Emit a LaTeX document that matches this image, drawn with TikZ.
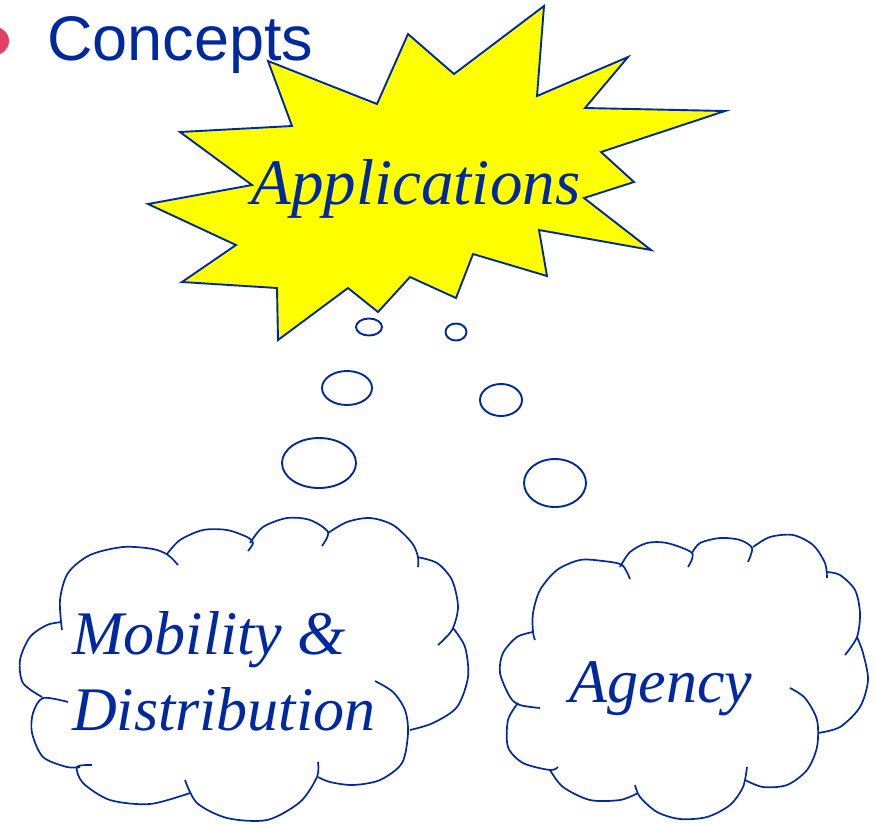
\documentclass[tikz,border=0pt]{standalone}
\usepackage{fontspec}
\setmainfont{Liberation Serif}
\newfontfamily\headfont{Liberation Sans}
\definecolor{ink}{RGB}{0,41,160}
\definecolor{dotred}{RGB}{230,64,96}
\definecolor{burstyellow}{RGB}{255,255,0}

\begin{document}
\begin{tikzpicture}[x=1pt, y=-1pt,
    burst/.style  = {draw=ink, fill=burstyellow, line width=1.9pt},% the star
    bubble/.style = {draw=ink, line width=1.9pt},% thought bubbles
    puff/.style   = {draw=ink, line width=1.7pt},% cloud arcs
    word/.style   = {text=ink, inner sep=0pt,
                     font=\itshape\fontsize{62}{76}\selectfont},
                        ]
\useasboundingbox (0,0) rectangle (876,823);
% heading
\fill[dotred] (-5,41) circle[radius=14];
\node[text=ink, inner sep=0pt, anchor=base west,
      font=\headfont\fontsize{63}{75}\selectfont] (head) at (47,60) {Concepts};
% star
\draw[burst] (544,6) -- (537,96) -- (628,57) -- (585,108) -- (725,111)
   -- (601,152) -- (634,182) -- (584,198) -- (651,250) -- (539,230)
   -- (547,276) -- (473,254) -- (456,298) -- (410,277) -- (378,312)
   -- (348,288) -- (278,340) -- (277,288) -- (182,282) -- (236,245)
   -- (148,204) -- (252,185) -- (180,132) -- (292,126) -- (268,61)
   -- (377,104) -- (408,34) -- (454,74) -- cycle;
\node[word, font=\itshape\fontsize{65}{78}\selectfont, anchor=base]
   (apps) at (416,204) {Applications};
% thought bubbles
\foreach \x/\y/\a/\b in {369/327/13/8.5, 456/332/10.5/8.5, 347/388/25/17,
                         501/400/21/16, 319/463/37/25, 555/483/31/24}
    \draw[bubble] (\x,\y) ellipse[x radius=\a, y radius=\b];
% left cloud
\draw[puff] plot[smooth] coordinates {(62,630) (60,600) (68,573) (90,555) (123,547) (153,549) (168,555) (178,565)};
\draw[puff] plot[smooth] coordinates {(167,554) (180,540) (203,530) (227,530) (247,537) (253,543) (248,551)};
\draw[puff] plot[smooth] coordinates {(250,543) (263,527) (287,518) (310,520) (328,532) (322,546)};
\draw[puff] plot[smooth] coordinates {(328,533) (347,522) (370,518) (393,525) (412,543) (418,557) (418,567)};
\draw[puff] plot[smooth] coordinates {(417,557) (437,563) (452,580) (458,607) (452,630) (438,645)};
\draw[puff] plot[smooth] coordinates {(453,628) (465,647) (468,677) (457,707) (433,723) (410,730)};
\draw[puff] plot[smooth] coordinates {(375,681) (393,692) (405,710) (408,733) (402,763) (380,780) (353,785) (330,782) (318,777)};
\draw[puff] plot[smooth] coordinates {(318,762) (317,777) (300,802) (267,820) (227,818) (197,803) (185,780)};
\draw[puff] plot[smooth] coordinates {(190,793) (150,804) (110,800) (83,783) (77,767) (92,765)};
\draw[puff] plot[smooth] coordinates {(80,767) (67,767) (43,757) (32,733) (33,713) (43,698) (68,702)};
\draw[puff] plot[smooth] coordinates {(42,697) (23,683) (20,660) (30,637) (47,625) (62,622)};
\node[word, align=left, anchor=base west] (mobility) at (72,730)
   {Mobility \&\\Distribution};
% right cloud
\draw[puff] plot[smooth] coordinates {(535,640) (533,632) (533,613) (540,590) (557,570) (580,560) (603,561) (622,565) (630,579)};
\draw[puff] plot[smooth] coordinates {(620,567) (630,552) (647,543) (667,543) (692,553) (688,567)};
\draw[puff] plot[smooth] coordinates {(692,553) (700,543) (720,538) (740,540) (752,548) (748,562)};
\draw[puff] plot[smooth] coordinates {(753,547) (770,537) (793,535) (813,545) (825,563) (827,578)};
\draw[puff] plot[smooth] coordinates {(827,572) (840,575) (855,590) (860,613) (857,637) (845,655)};
\draw[puff] plot[smooth] coordinates {(857,637) (863,653) (868,680) (860,707) (840,727) (818,733)};
\draw[puff] plot[smooth] coordinates {(790,688) (805,698) (817,720) (817,747) (807,770) (787,785) (763,787) (745,780)};
\draw[puff] plot[smooth] coordinates {(747,767) (743,787) (730,805) (707,817) (680,819) (657,812) (640,797) (635,785)};
\draw[puff] plot[smooth] coordinates {(550,770) (563,787) (590,800) (620,800) (638,793)};
\draw[puff] plot[smooth] coordinates {(518,703) (508,720) (508,747) (523,763) (550,770) (558,767)};
\draw[puff] plot[smooth] coordinates {(533,632) (517,637) (503,653) (500,673) (510,697) (520,705) (540,708)};
\node[word, anchor=base] (agency) at (661,702) {Agency};
\end{tikzpicture}
\end{document}
